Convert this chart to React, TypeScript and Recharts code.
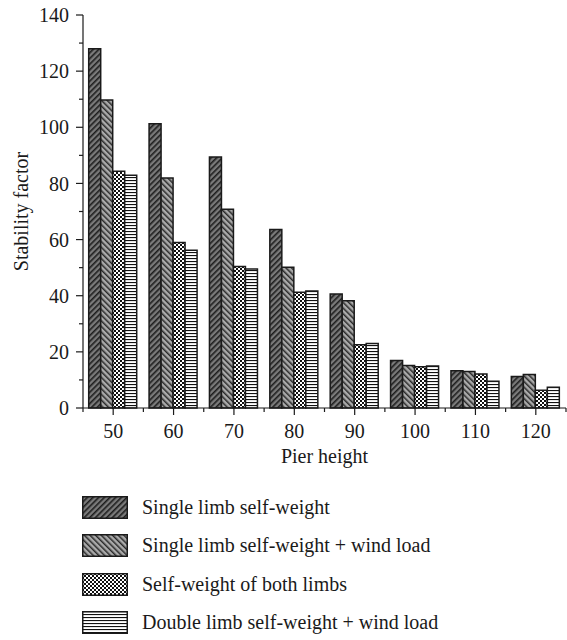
import React from 'react';
import { BarChart, Bar, XAxis, YAxis, Label } from 'recharts';

const categories = ['50', '60', '70', '80', '90', '100', '110', '120'];
const singleLimb = [128, 101.3, 89.4, 63.6, 40.6, 16.9, 13.3, 11.2];
const singleLimbWind = [109.7, 81.9, 70.8, 50.1, 38.2, 15.1, 13.0, 11.9];
const bothLimbs = [84.3, 59.0, 50.4, 41.2, 22.5, 14.7, 12.1, 6.3];
const doubleLimbWind = [82.9, 56.2, 49.5, 41.7, 23.0, 15.0, 9.5, 7.4];
const seriesNames = [
  'Single limb self-weight',
  'Single limb self-weight + wind load',
  'Self-weight of both limbs',
  'Double limb self-weight + wind load',
];
const yTicks = [0, 10, 20, 30, 40, 50, 60, 70, 80, 90, 100, 110, 120, 130, 140];
const yLabelStep = 20;

const keys = ['s1', 's2', 's3', 's4'];
const patternIds = ['pat1', 'pat2', 'pat3', 'pat4'];

const data = categories.map((c, i) => ({
  pier: c,
  s1: singleLimb[i],
  s2: singleLimbWind[i],
  s3: bothLimbs[i],
  s4: doubleLimbWind[i],
}));

const FONT = '"Liberation Serif", "DejaVu Serif", serif';
const INK = '#1a1a1a';
const MAJOR = 7;
const MINOR = 4;

const PatternDefs = () => (
  <defs>
    <pattern id="pat1" patternUnits="userSpaceOnUse" width="4" height="4" patternTransform="rotate(45)">
      <rect x="0" y="0" width="4" height="4" fill="#7a7a7a" />
      <rect x="0" y="0" width="1.6" height="4" fill="#1e1e1e" />
    </pattern>
    <pattern id="pat2" patternUnits="userSpaceOnUse" width="4" height="4" patternTransform="rotate(-45)">
      <rect x="0" y="0" width="4" height="4" fill="#aaaaaa" />
      <rect x="0" y="0" width="1.5" height="4" fill="#2a2a2a" />
    </pattern>
    <pattern id="pat3" patternUnits="userSpaceOnUse" width="4" height="4">
      <rect x="0" y="0" width="4" height="4" fill="#ffffff" />
      <rect x="0" y="0" width="2" height="2" fill="#111111" />
      <rect x="2" y="2" width="2" height="2" fill="#111111" />
    </pattern>
    <pattern id="pat4" patternUnits="userSpaceOnUse" width="3" height="3">
      <rect x="0" y="0" width="3" height="3" fill="#ffffff" />
      <rect x="0" y="0" width="3" height="1.1" fill="#111111" />
    </pattern>
  </defs>
);

const Legend = () => (
  <div style={{ position: 'absolute', left: 82, top: 496, fontFamily: FONT, fontSize: 20, color: INK }}>
    {seriesNames.map((name, i) => (
      <div key={name} style={{ display: 'flex', alignItems: 'center', height: 23, marginBottom: 15.3 }}>
        <svg width={46} height={23} style={{ display: 'block' }}>
          <rect x={0.75} y={0.75} width={44.5} height={21.5} fill={`url(#${patternIds[i]})`} stroke={INK} strokeWidth={1.5} />
        </svg>
        <span style={{ marginLeft: 14, whiteSpace: 'nowrap', lineHeight: '23px' }}>{name}</span>
      </div>
    ))}
  </div>
);

const YTick = (props: any) => {
  const { x, y, payload } = props;
  const v = payload.value;
  const major = v % yLabelStep === 0;
  return (
    <g>
      <line x1={x - (major ? MAJOR : MINOR)} y1={y} x2={x} y2={y} stroke={INK} strokeWidth={1.2} />
      {major && (
        <text x={x - MAJOR - 7} y={y} dy="0.355em" textAnchor="end" fontFamily={FONT} fontSize={20} fill={INK}>
          {v}
        </text>
      )}
    </g>
  );
};

const XTick = (props: any) => {
  const { x, y, payload, index, visibleTicksCount } = props;
  const half = payload.offset;
  const last = index === visibleTicksCount - 1;
  return (
    <g>
      <line x1={x} y1={y} x2={x} y2={y + MAJOR} stroke={INK} strokeWidth={1.2} />
      <line x1={x - half} y1={y} x2={x - half} y2={y + MINOR} stroke={INK} strokeWidth={1.2} />
      {last && <line x1={x + half} y1={y} x2={x + half} y2={y + MINOR} stroke={INK} strokeWidth={1.2} />}
      <text x={x} y={y + MAJOR + 9} dy="0.71em" textAnchor="middle" fontFamily={FONT} fontSize={20} fill={INK}>
        {payload.value}
      </text>
    </g>
  );
};

export default function App() {
  return (
    <div style={{ position: 'absolute', left: 0, top: 0, width: 567, height: 640, background: '#fff' }}>
      <BarChart
        width={567}
        height={470}
        data={data}
        margin={{ top: 15, right: 1, left: 0, bottom: 2 }}
        barCategoryGap={5.7}
        barGap={0}
      >
        <PatternDefs />
        <XAxis
          dataKey="pier"
          interval={0}
          height={60}
          tickSize={0}
          tickMargin={0}
          tickLine={false}
          tick={XTick}
          axisLine={{ stroke: INK, strokeWidth: 1.2 }}
        >
          <Label value="Pier height" position="insideBottom" offset={5} style={{ fontFamily: FONT, fontSize: 20, fill: INK }} />
        </XAxis>
        <YAxis
          type="number"
          domain={[0, 140]}
          ticks={yTicks}
          interval={0}
          width={83}
          tickSize={0}
          tickMargin={0}
          tickLine={false}
          tick={YTick}
          axisLine={{ stroke: INK, strokeWidth: 1.2 }}
        >
          <Label
            value="Stability factor"
            angle={-90}
            position="insideLeft"
            offset={21}
            style={{ fontFamily: FONT, fontSize: 20, fill: INK, textAnchor: 'middle' }}
          />
        </YAxis>
        {keys.map((k, i) => (
          <Bar
            key={k}
            dataKey={k}
            name={seriesNames[i]}
            fill={`url(#${patternIds[i]})`}
            stroke={INK}
            strokeWidth={1.5}
            isAnimationActive={false}
          />
        ))}
      </BarChart>
      <Legend />
    </div>
  );
}
